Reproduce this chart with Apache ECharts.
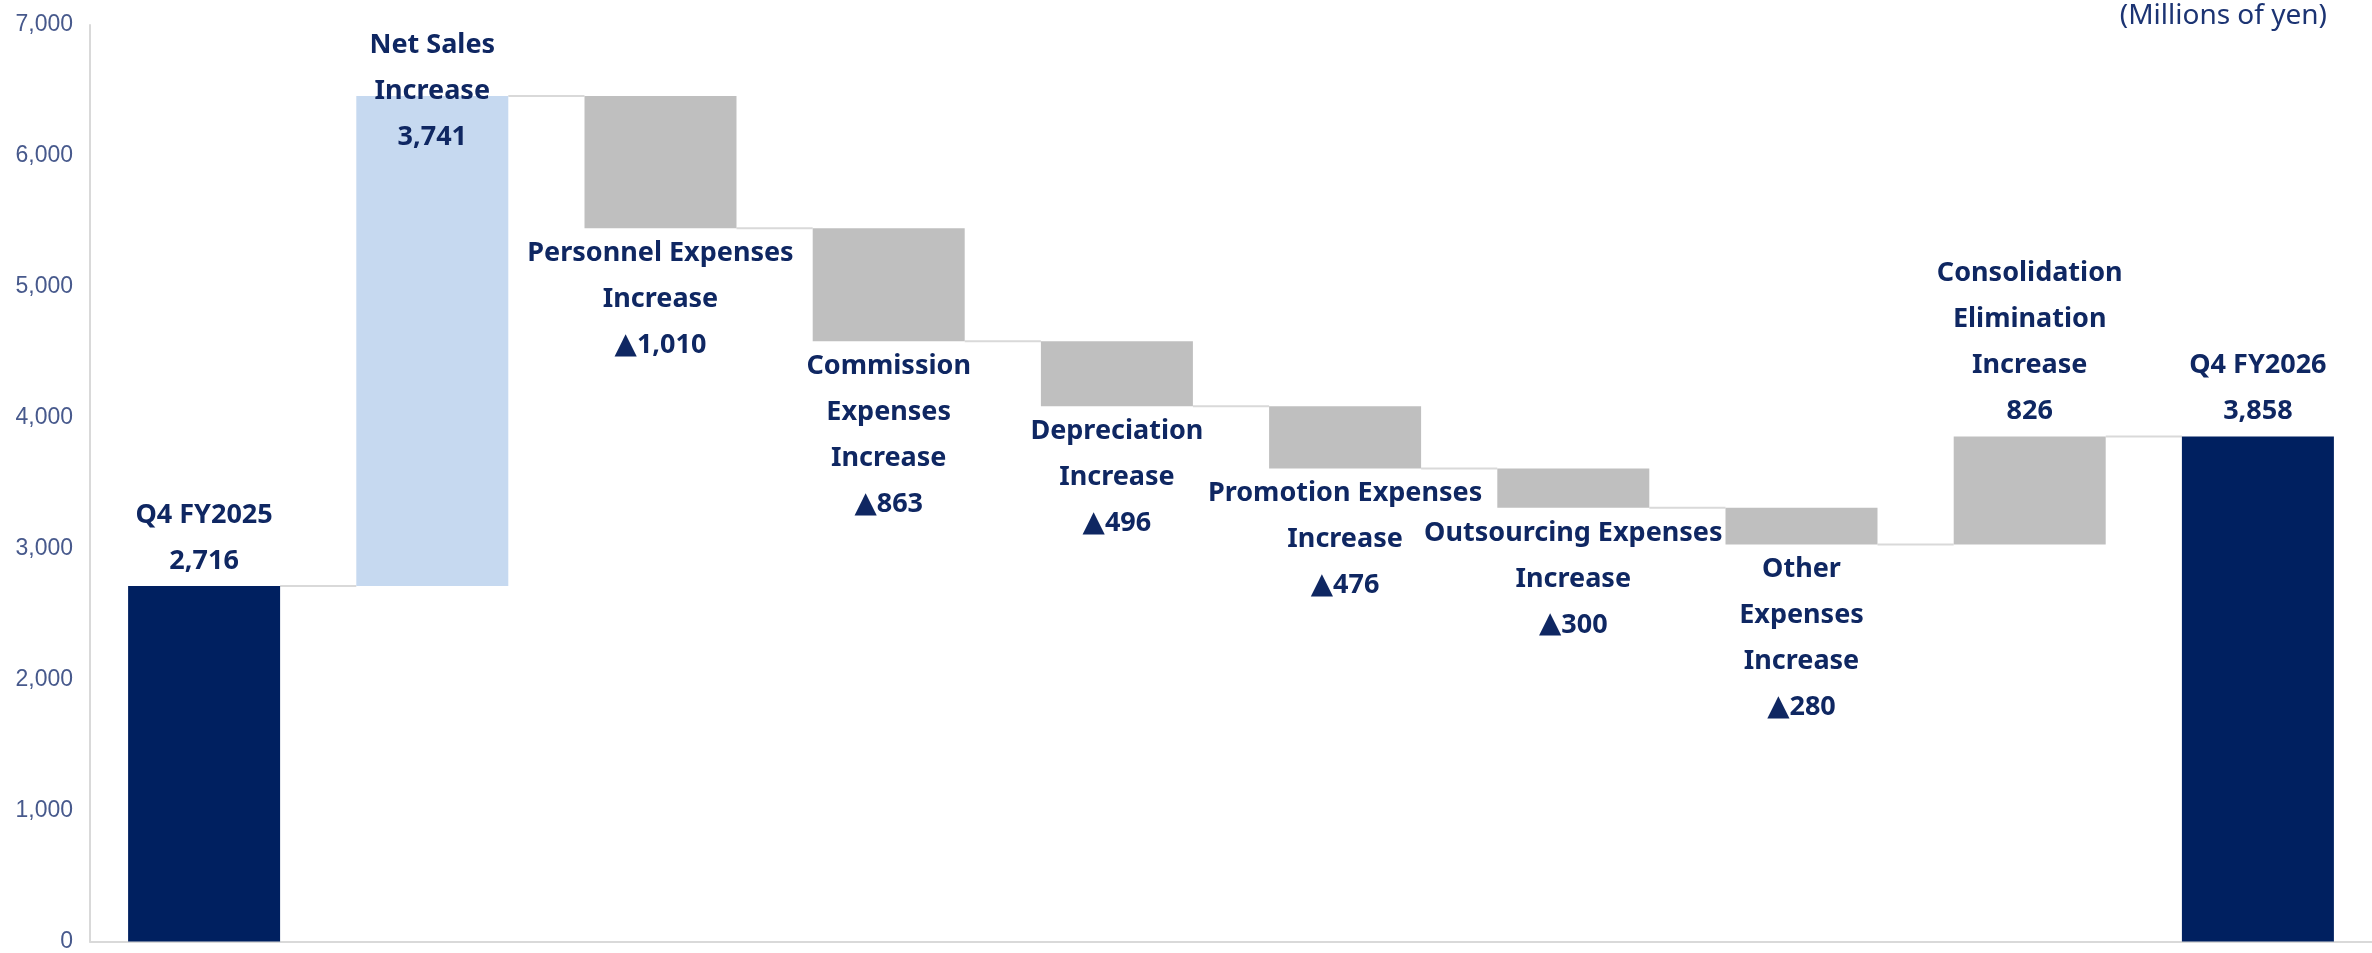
<!DOCTYPE html>
<html>
<head>
<meta charset="utf-8">
<script src="https://cdn.jsdelivr.net/npm/echarts@6/dist/echarts.min.js"></script>
<style>
  html, body { margin: 0; padding: 0; background: #ffffff; }
  #chart { width: 2372px; height: 953px; }
</style>
</head>
<body>
<div id="chart"></div>
<script>
  // 各項目の名称（ラベルの行ごと）
  const categories = [
    "Q4 FY2025",
    "Net Sales Increase",
    "Personnel Expenses Increase",
    "Commission Expenses Increase",
    "Depreciation Increase",
    "Promotion Expenses Increase",
    "Outsourcing Expenses Increase",
    "Other Expenses Increase",
    "Consolidation Elimination Increase",
    "Q4 FY2026",
  ];
  const labelLines = [
    ["Q4 FY2025"],
    ["Net Sales", "Increase"],
    ["Personnel Expenses", "Increase"],
    ["Commission", "Expenses", "Increase"],
    ["Depreciation", "Increase"],
    ["Promotion Expenses", "Increase"],
    ["Outsourcing Expenses", "Increase"],
    ["Other", "Expenses", "Increase"],
    ["Consolidation", "Elimination", "Increase"],
    ["Q4 FY2026"],
  ];
  // 期首・期末は合計値、それ以外は増減額（百万円）
  const amounts = [2716, 3741, -1010, -863, -496, -476, -300, -280, 826, 3858];
  const yTicks = [0, 1000, 2000, 3000, 4000, 5000, 6000, 7000];

  const last = amounts.length - 1;
  const isTotal = (i) => i === 0 || i === last;

  // 積み上げ用の透明ベースと見える部分を計算
  const baseData = [];
  const barData = [];
  const levels = []; // 各バーの後の累計
  let running = 0;
  amounts.forEach((v, i) => {
    if (isTotal(i)) {
      baseData.push(0);
      barData.push(v);
      running = v;
    } else {
      const next = running + v;
      baseData.push(Math.min(running, next));
      barData.push(Math.abs(v));
      running = next;
    }
    levels.push(running);
  });

  const NAVY = "#002060";
  const LIGHT_BLUE = "#c6d9f0";
  const GRAY = "#bfbfbf";
  const TEXT = "#0f2762";
  const BAR_WIDTH = 152;

  // マイナスは▲表記（▲はrichで大きめに）
  const fmt = (v) => {
    const s = Math.abs(v).toLocaleString("en-US");
    return v < 0 ? "{tri|▲}" + s : s;
  };

  const barColor = (i) => (isTotal(i) ? NAVY : i === 1 ? LIGHT_BLUE : GRAY);

  const visibleData = barData.map((v, i) => {
    const down = !isTotal(i) && amounts[i] < 0;
    const label = {
      position: down ? "bottom" : "top",
    };
    // Net Sales のラベルはグラフ上端に収まるよう下へずらす
    if (i === 1) label.offset = [0, 66];
    return {
      value: v,
      itemStyle: { color: barColor(i) },
      label,
    };
  });

  const chart = echarts.init(document.getElementById("chart"));

  const option = {
    animation: false,
    backgroundColor: "#ffffff",
    grid: { left: 90, right: 0, top: 25, bottom: 11, containLabel: false },
    xAxis: {
      type: "category",
      data: categories,
      axisLine: { show: true, lineStyle: { color: "#d9d9d9", width: 2 } },
      axisTick: { show: false },
      axisLabel: { show: false },
      splitLine: { show: false },
    },
    yAxis: {
      type: "value",
      min: yTicks[0],
      max: yTicks[yTicks.length - 1],
      interval: 1000,
      axisLine: { show: true, lineStyle: { color: "#d9d9d9", width: 2 } },
      axisTick: { show: false },
      splitLine: { show: false },
      axisLabel: {
        margin: 17,
        fontFamily: "Liberation Sans",
        fontSize: 23,
        color: "#47598c",
        formatter: (v) => v.toLocaleString("en-US"),
      },
    },
    graphic: [
      {
        type: "text",
        right: 45,
        top: 2,
        style: {
          text: "(Millions of yen)",
          fontFamily: "Noto Sans",
          fontSize: 28,
          fill: "#1c3473",
        },
      },
    ],
    series: [
      {
        type: "bar",
        stack: "wf",
        barWidth: BAR_WIDTH,
        itemStyle: { color: "transparent" },
        emphasis: { disabled: true },
        data: baseData,
        silent: true,
      },
      {
        type: "bar",
        stack: "wf",
        barWidth: BAR_WIDTH,
        emphasis: { disabled: true },
        data: visibleData,
        label: {
          show: true,
          distance: 2,
          fontFamily: "Noto Sans",
          fontWeight: "bold",
          fontSize: 27,
          lineHeight: 46,
          color: TEXT,
          align: "center",
          rich: {
            tri: {
              fontFamily: "DejaVu Sans",
              fontSize: 29,
              lineHeight: 46,
              color: TEXT,
            },
          },
          formatter: (p) =>
            labelLines[p.dataIndex].concat(fmt(amounts[p.dataIndex])).join("\n"),
        },
      },
      {
        // バー間のコネクタ線
        type: "custom",
        silent: true,
        data: levels.slice(0, last).map((v, i) => [i, v]),
        renderItem: (params, api) => {
          const p = api.coord([api.value(0), api.value(1)]);
          const band = api.size([1, 0])[0];
          const half = BAR_WIDTH / 2;
          return {
            type: "line",
            shape: { x1: p[0] + half, y1: p[1], x2: p[0] + band - half, y2: p[1] },
            style: { stroke: "#d9d9d9", lineWidth: 2 },
          };
        },
      },
    ],
  };

  chart.setOption(option);
</script>
</body>
</html>
